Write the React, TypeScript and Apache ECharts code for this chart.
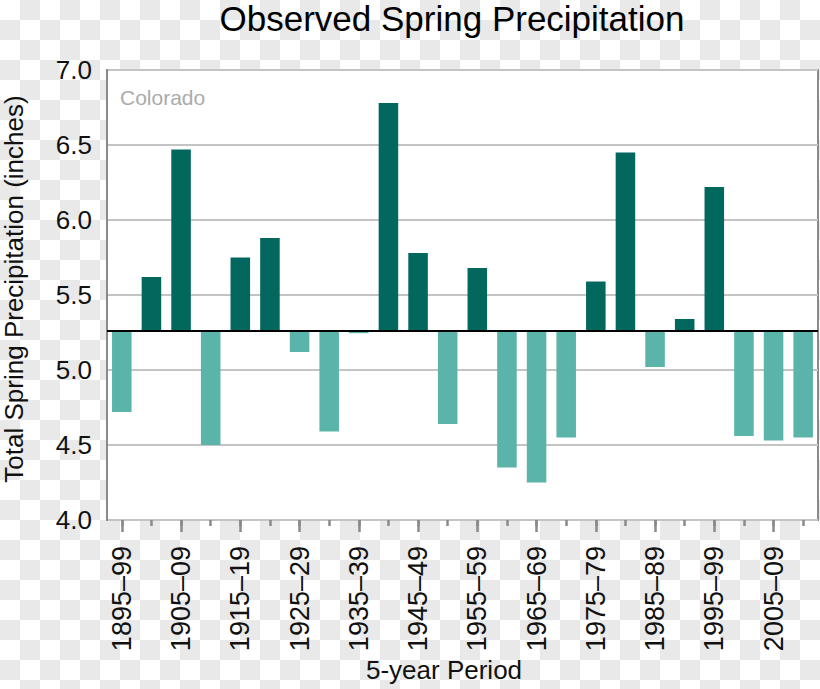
import React, { useEffect, useRef } from "react";
import * as echarts from "echarts";

const periods = [
  "1895–99", "1900–04", "1905–09", "1910–14", "1915–19", "1920–24",
  "1925–29", "1930–34", "1935–39", "1940–44", "1945–49", "1950–54",
  "1955–59", "1960–64", "1965–69", "1970–74", "1975–79", "1980–84",
  "1985–89", "1990–94", "1995–99", "2000–04", "2005–09", "2010–14",
];

const precipitation = [
  4.72, 5.62, 6.47, 4.5, 5.75, 5.88,
  5.12, 4.59, 5.245, 6.78, 5.78, 4.64,
  5.68, 4.35, 4.25, 4.55, 5.59, 6.45,
  5.02, 5.34, 6.22, 4.56, 4.53, 4.55,
];

const baselineValue = 5.26;
const yTicks = [4.0, 4.5, 5.0, 5.5, 6.0, 6.5, 7.0];

const DARK = "#02685d";
const LIGHT = "#5bb4aa";
const FONT = "'Liberation Sans', Arial, Helvetica, sans-serif";

export default function App() {
  const ref = useRef<HTMLDivElement>(null);

  useEffect(() => {
    document.body.style.margin = "0";
    if (!ref.current) return;
    const chart = echarts.init(ref.current, null, { renderer: "svg" });

    const baseData = precipitation.map((v) => Math.min(v, baselineValue));
    const deltaData = precipitation.map((v) => ({
      value: Math.abs(v - baselineValue),
      itemStyle: { color: v >= baselineValue ? DARK : LIGHT },
    }));

    const commonX = {
      type: "category" as const,
      data: periods,
      boundaryGap: true,
      gridIndex: 0,
      position: "bottom" as const,
      axisLine: { show: false },
      splitLine: { show: false },
    };

    chart.setOption({
      animation: false,
      textStyle: { fontFamily: FONT },
      grid: {
        left: 107,
        right: 2,
        top: 70,
        bottom: 169,
        show: true,
        backgroundColor: "#ffffff",
        borderColor: "#8a8a8a",
        borderWidth: 2,
        containLabel: false,
      },
      xAxis: [
        {
          ...commonX,
          axisTick: {
            show: true,
            alignWithLabel: true,
            interval: 0,
            length: 6,
            lineStyle: { color: "#8a8a8a", width: 2.5 },
          },
          axisLabel: { show: false },
        },
        {
          ...commonX,
          axisTick: {
            show: true,
            alignWithLabel: true,
            interval: 1,
            length: 12,
            lineStyle: { color: "#8a8a8a", width: 2.5 },
          },
          axisLabel: {
            show: true,
            interval: 1,
            rotate: 90,
            margin: 26,
            fontSize: 27,
            color: "#111",
            fontFamily: FONT,
          },
        },
      ],
      yAxis: {
        type: "value",
        min: 4.0,
        max: 7.0,
        interval: 0.5,
        axisLine: { show: true, lineStyle: { color: "#8a8a8a", width: 2 } },
        axisTick: { show: false },
        splitLine: { show: true, lineStyle: { color: "#c4c4c4", width: 2 } },
        axisLabel: {
          fontSize: 26,
          color: "#111",
          margin: 15,
          fontFamily: FONT,
          formatter: (v: number) =>
            yTicks.some((t) => Math.abs(t - v) < 1e-9) ? v.toFixed(1) : "",
        },
      },
      series: [
        {
          type: "bar",
          stack: "p",
          xAxisIndex: 0,
          barWidth: "66%",
          data: baseData,
          itemStyle: { color: "rgba(0,0,0,0)" },
          silent: true,
        },
        {
          type: "bar",
          stack: "p",
          xAxisIndex: 0,
          barWidth: "66%",
          data: deltaData,
          markLine: {
            silent: true,
            symbol: "none",
            label: { show: false },
            lineStyle: { color: "#000", width: 2, type: "solid" },
            data: [{ yAxis: baselineValue }],
            z: 10,
          },
        },
      ],
      graphic: [
        {
          type: "text",
          x: 452,
          y: 18,
          style: {
            text: "Observed Spring Precipitation",
            font: `35px ${FONT}`,
            fill: "#000",
            textAlign: "center",
            textVerticalAlign: "middle",
          },
        },
        {
          type: "text",
          x: 120,
          y: 97,
          style: {
            text: "Colorado",
            font: `21px ${FONT}`,
            fill: "#ababab",
            textAlign: "left",
            textVerticalAlign: "middle",
          },
        },
        {
          type: "text",
          x: 14,
          y: 289,
          rotation: Math.PI / 2,
          style: {
            text: "Total Spring Precipitation (inches)",
            font: `26px ${FONT}`,
            fill: "#111",
            textAlign: "center",
            textVerticalAlign: "middle",
          },
        },
        {
          type: "text",
          x: 444,
          y: 670,
          style: {
            text: "5-year Period",
            font: `26px ${FONT}`,
            fill: "#111",
            textAlign: "center",
            textVerticalAlign: "middle",
          },
        },
      ],
    });

    return () => chart.dispose();
  }, []);

  return (
    <div
      style={{
        position: "absolute",
        left: 0,
        top: 0,
        width: 820,
        height: 689,
        backgroundColor: "#ffffff",
        backgroundImage:
          "linear-gradient(45deg, #e9e9e9 25%, transparent 25%, transparent 75%, #e9e9e9 75%), linear-gradient(45deg, #e9e9e9 25%, transparent 25%, transparent 75%, #e9e9e9 75%)",
        backgroundSize: "40px 40px",
        backgroundPosition: "0px 0px, 20px 20px",
      }}
    >
      <div ref={ref} style={{ width: 820, height: 689 }} />
    </div>
  );
}
